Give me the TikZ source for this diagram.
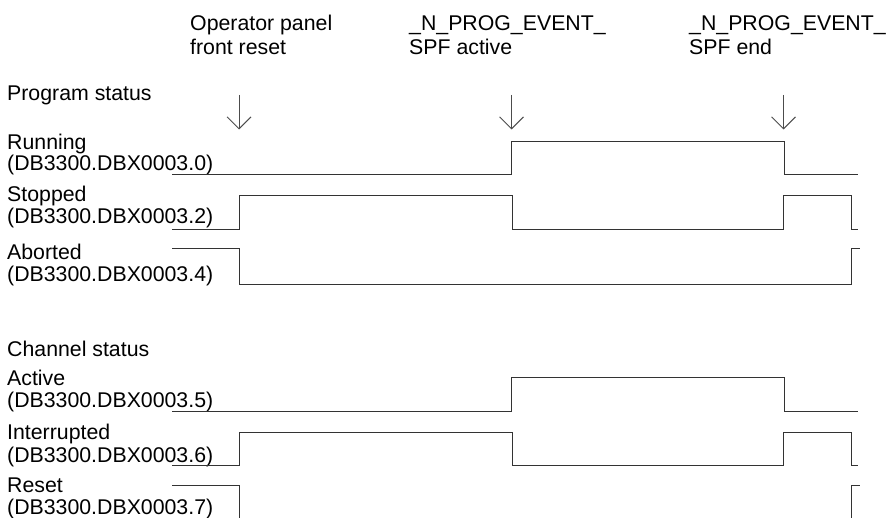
\documentclass[tikz,border=0pt]{standalone}
\usepackage{fontspec}
\setmainfont{Liberation Sans}
\usetikzlibrary{arrows.meta}
\begin{document}
\begin{tikzpicture}[x=1pt,y=-1pt,
  lbl/.style={inner sep=0pt,anchor=base west,font=\fontsize{21.3}{24}\selectfont},
  sig/.style={draw=black!80,line width=0.9pt},
  evarrow/.style={draw=black!70,line width=0.9pt,-{Straight Barb[length=12pt,width=24pt,line width=0.9pt]}}]
\useasboundingbox (0,0) rectangle (891,518);
% top event labels
\node[lbl] (e1a) at (190,30.5) {Operator panel};
\node[lbl] (e1b) at (190,55) {front reset};
\node[lbl] (e2a) at (409,30.5) {\_N\_PROG\_EVENT\_};
\node[lbl] (e2b) at (409,55) {SPF active};
\node[lbl] (e3a) at (689,30.5) {\_N\_PROG\_EVENT\_};
\node[lbl] (e3b) at (689,55) {SPF end};
% arrows
\coordinate (a1s) at (239,95); \coordinate (a1e) at (239,129.5);
\coordinate (a2s) at (511.5,95); \coordinate (a2e) at (511.5,129.5);
\coordinate (a3s) at (783.5,95); \coordinate (a3e) at (783.5,129.5);
\draw[evarrow] (a1s) -- (a1e);
\draw[evarrow] (a2s) -- (a2e);
\draw[evarrow] (a3s) -- (a3e);
% left labels
\node[lbl] (ps) at (7,101) {Program status};
\node[lbl] (runa) at (7,149.5) {Running};
\node[lbl] (runb) at (7,171) {(DB3300.DBX0003.0)};
\node[lbl] (stpa) at (7,202) {Stopped};
\node[lbl] (stpb) at (7,224) {(DB3300.DBX0003.2)};
\node[lbl] (abta) at (7,260) {Aborted};
\node[lbl] (abtb) at (7,282) {(DB3300.DBX0003.4)};
\node[lbl] (cs) at (7,356) {Channel status};
\node[lbl] (acta) at (7,385) {Active};
\node[lbl] (actb) at (7,407) {(DB3300.DBX0003.5)};
\node[lbl] (inta) at (7,439.5) {Interrupted};
\node[lbl] (intb) at (7,462.5) {(DB3300.DBX0003.6)};
\node[lbl] (rsta) at (7,492.5) {Reset};
\node[lbl] (rstb) at (7,514) {(DB3300.DBX0003.7)};
% signals
\draw[sig] (172,174.5) -- (511,174.5) -- (511,141.5) -- (784,141.5) -- (784,174.5) -- (858,174.5);
\draw[sig] (172,229.3) -- (239,229.3) -- (239,195.3) -- (512,195.3) -- (512,229.3) -- (783,229.3) -- (783,195.3) -- (851,195.3) -- (851,229.3) -- (858,229.3);
\draw[sig] (172,248.7) -- (239,248.7) -- (239,284) -- (851,284) -- (851,248.7) -- (860,248.7);
\draw[sig] (172,411.7) -- (511,411.7) -- (511,377.7) -- (784,377.7) -- (784,411.7) -- (858,411.7);
\draw[sig] (172,465.7) -- (239,465.7) -- (239,432.7) -- (512,432.7) -- (512,465.7) -- (783,465.7) -- (783,432.7) -- (851,432.7) -- (851,465.7) -- (858,465.7);
\draw[sig] (172,485) -- (239,485) -- (239,520);
\draw[sig] (851,520) -- (851,485) -- (860,485);
\end{tikzpicture}
\end{document}
